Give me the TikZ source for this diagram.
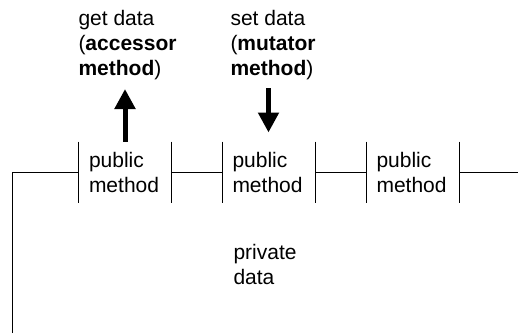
\documentclass[tikz,border=0pt]{standalone}
\usepackage{fontspec}
\setmainfont{Liberation Sans}
\usetikzlibrary{arrows.meta}

\begin{document}
\begin{tikzpicture}[x=1pt,y=-1pt,line width=1pt,
  every node/.style={font=\fontsize{21}{25}\selectfont},
  meth/.style={minimum width=92pt,minimum height=60pt,text width=72pt,inner xsep=10pt,inner ysep=0pt,align=left},
  lbl/.style={anchor=west,inner sep=0pt,align=left},
  fat/.style={-{Triangle[width=20pt,length=20pt]},line width=5pt}]
\useasboundingbox (0,0) rectangle (518,333);
\node[meth] (m1) at (125,172) {public\\method};
\node[meth] (m2) at (268.5,172) {public\\method};
\node[meth] (m3) at (412.5,172) {public\\method};
\node[lbl] (get) at (78,45) {get data\\(\textbf{accessor}\\\textbf{method})};
\node[lbl] (set) at (230,45) {set data\\(\textbf{mutator}\\\textbf{method})};
\node[lbl] (priv) at (233,264) {private\\data};
\coordinate (lo) at (12,333);
\coordinate (ri) at (518,172);
\coordinate (gt) at (125,89);
\coordinate (st) at (268.5,88);
% the wall round the private data
\draw (lo) |- (m1.west);
\draw (m1.east) -- (m2.west);
\draw (m2.east) -- (m3.west);
\draw (m3.east) -- (ri);
\foreach \m in {m1,m2,m3} {
  \draw (\m.north west) -- (\m.south west);
  \draw (\m.north east) -- (\m.south east);
}
\draw[fat] (m1.north) -- (gt);
\draw[fat] (st) -- ([yshift=9pt]m2.north);
\end{tikzpicture}
\end{document}
